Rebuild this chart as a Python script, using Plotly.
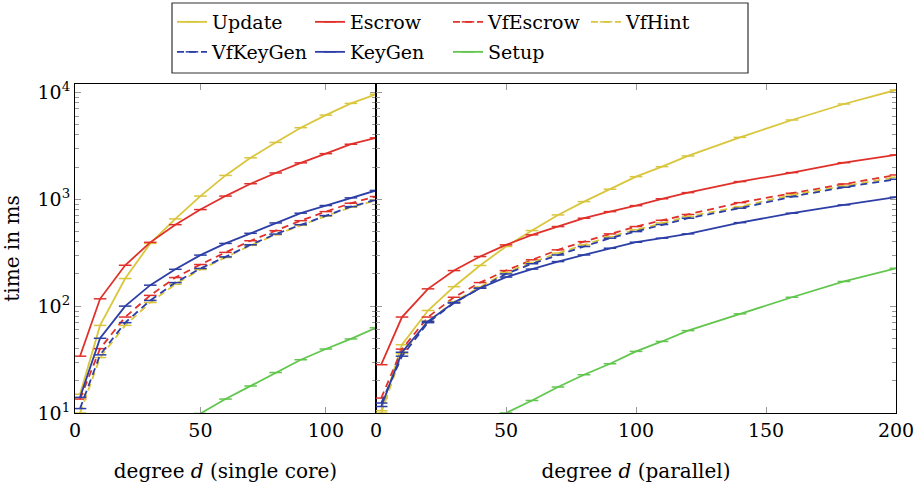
import plotly.graph_objects as go

# ---------------- data ----------------
x_single = [2, 10, 20, 30, 40, 50, 60, 70, 80, 90, 100, 110, 120]
x_parallel = [2, 10, 20, 30, 40, 50, 60, 70, 80, 90, 100, 110, 120, 140, 160, 180, 200]

update_single = [15, 66, 181, 386, 655, 1070, 1670, 2440, 3400, 4670, 6120, 7880, 9600]
escrow_single = [34, 117, 241, 395, 578, 800, 1070, 1397, 1760, 2190, 2670, 3270, 3750]
vfescrow_single = [13.5, 40, 79, 126, 185, 245, 318, 409, 508, 630, 766, 918, 1060]
vfhint_single = [10, 33, 66, 108, 160, 220, 285, 370, 465, 570, 695, 840, 975]
vfkeygen_single = [11, 35, 70, 113, 166, 225, 289, 375, 472, 578, 703, 853, 986]
keygen_single = [14, 50, 100, 157, 221, 300, 386, 480, 600, 740, 873, 1030, 1208]
setup_single = [None, None, None, None, 7.5, 9.9, 13.5, 17.9, 23.9, 31.5, 39.7, 49.3, 62.7]

update_parallel = [10.5, 43.5, 91, 152, 240, 361, 509, 713, 950, 1240, 1626, 2017, 2540, 3793, 5510, 7780, 10520]
escrow_parallel = [28.3, 79, 145, 215, 291, 374, 464, 555, 664, 766, 871, 1010, 1153, 1462, 1774, 2198, 2596]
vfescrow_parallel = [13.8, 39.6, 79, 121, 166, 215, 271, 336, 401, 474, 555, 635, 720, 929, 1137, 1390, 1687]
vfhint_parallel = [10, 36, 72, 110, 151, 206, 256, 313, 374, 447, 517, 600, 687, 853, 1097, 1327, 1607]
vfkeygen_parallel = [12.4, 34, 70, 107, 147, 200, 249, 301, 361, 432, 498, 580, 664, 824, 1057, 1294, 1538]
keygen_parallel = [11.5, 37, 72, 108, 147, 187, 222, 261, 301, 348, 396, 432, 474, 604, 740, 885, 1045]
setup_parallel = [None, None, None, None, 7.4, 10, 13.1, 17.5, 22.8, 28.9, 37.7, 46.7, 59, 84.7, 121, 170, 226]

y_tickvals = [10, 100, 1000, 10000]
y_ticktext = ["10<sup>1</sup>", "10<sup>2</sup>", "10<sup>3</sup>", "10<sup>4</sup>"]

# ---------------- styles ----------------
YEL = "#D9C63C"
RED = "#E0302A"
BLUE = "#2D3FA6"
GREEN = "#62C64E"
DASH = "7px,5px"

series = [
    ("Update", update_single, update_parallel, YEL, "solid", "legend"),
    ("Escrow", escrow_single, escrow_parallel, RED, "solid", "legend"),
    ("VfEscrow", vfescrow_single, vfescrow_parallel, RED, DASH, "legend"),
    ("VfHint", vfhint_single, vfhint_parallel, YEL, DASH, "legend"),
    ("VfKeyGen", vfkeygen_single, vfkeygen_parallel, BLUE, DASH, "legend2"),
    ("KeyGen", keygen_single, keygen_parallel, BLUE, "solid", "legend2"),
    ("Setup", setup_single, setup_parallel, GREEN, "solid", "legend2"),
]

FONT = "DejaVu Serif, Liberation Serif, serif"

fig = go.Figure()
for name, ys, yp, col, dash, lg in series:
    common = dict(
        mode="lines+markers",
        line=dict(color=col, width=1.8, dash=dash),
        marker=dict(symbol="line-ew-open", size=9, line=dict(color=col, width=1.5)),
        legendgroup=name,
        name=name,
    )
    fig.add_trace(go.Scatter(x=x_single, y=ys, xaxis="x", yaxis="y",
                             showlegend=True, legend=lg, **common))
    fig.add_trace(go.Scatter(x=x_parallel, y=yp, xaxis="x2", yaxis="y2",
                             showlegend=False, **common))

W, H = 918, 487
ml, mr, mt, mb = 75, 22, 84, 74
pw = W - ml - mr
ph = H - mt - mb
split = (376 - ml) / pw

def px_x(p):
    return (p - ml) / pw

def px_y(p):
    return 1 + (mt - p) / ph

axis_common = dict(
    showline=True, linecolor="black", linewidth=1, mirror="allticks",
    ticks="inside", ticklen=6, tickcolor="#999999", tickwidth=1,
    showgrid=False, zeroline=False, automargin=False,
    tickfont=dict(family=FONT, size=19, color="black"),
)
yrange = [1, 4.078]
yminor = dict(ticks="inside", ticklen=4, tickcolor="#999999", dtick="D1", showgrid=False)

leg_common = dict(orientation="h", xref="container", yref="container",
                  xanchor="left", yanchor="middle",
                  font=dict(family=FONT, size=19), bgcolor="rgba(0,0,0,0)",
                  entrywidth=93, entrywidthmode="pixels", itemwidth=30,
                  tracegroupgap=0)

fig.update_layout(
    width=W, height=H,
    margin=dict(l=ml, r=mr, t=mt, b=mb, autoexpand=False),
    paper_bgcolor="white", plot_bgcolor="white",
    font=dict(family=FONT, size=19, color="black"),
    xaxis=dict(domain=[0, split], range=[0, 120], tickvals=[0, 50, 100],
               title=dict(text="degree <i>d</i> (single core)", standoff=24,
                          font=dict(family=FONT, size=20)),
               **axis_common),
    xaxis2=dict(domain=[split, 1], range=[0, 200], tickvals=[0, 50, 100, 150, 200],
                anchor="y2",
                title=dict(text="degree <i>d</i> (parallel)", standoff=24,
                           font=dict(family=FONT, size=20)),
                **axis_common),
    yaxis=dict(type="log", range=yrange, tickvals=y_tickvals, ticktext=y_ticktext,
               minor=yminor, anchor="x",
               title=dict(text="time in ms", standoff=14, font=dict(family=FONT, size=20)),
               **axis_common),
    yaxis2=dict(type="log", range=yrange, tickvals=y_tickvals, ticktext=y_ticktext,
                showticklabels=False, minor=yminor, anchor="x2",
                **axis_common),
    legend=dict(x=172 / W, y=1 - 22 / H, **leg_common),
    legend2=dict(x=172 / W, y=1 - 52 / H, **leg_common),
    shapes=[dict(type="rect", xref="paper", yref="paper",
                 x0=px_x(172), x1=px_x(748), y0=px_y(73), y1=px_y(3),
                 line=dict(color="#333333", width=1.2), fillcolor="rgba(0,0,0,0)")],
)

fig.write_html("out.html", config={"displayModeBar": False},
               post_script="document.body.style.margin='0px';")
